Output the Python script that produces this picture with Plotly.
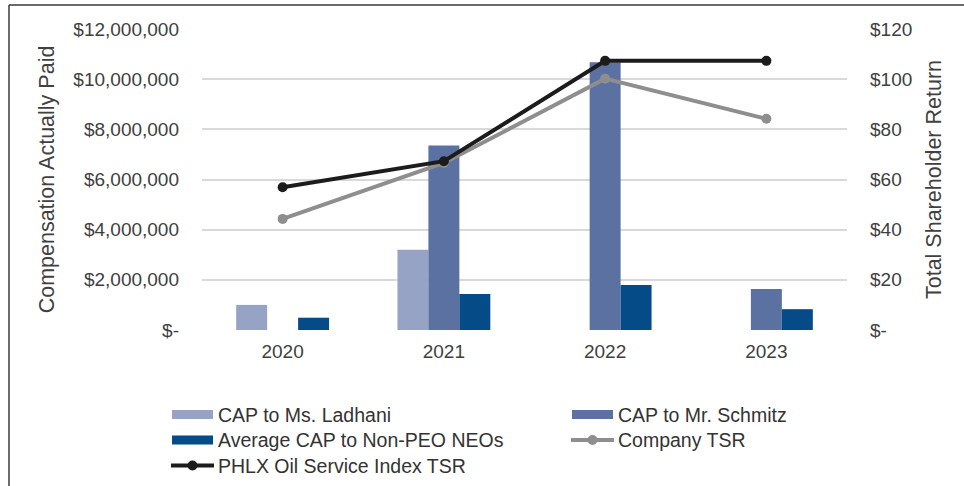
import plotly.graph_objects as go

# ---- data ----
years = ["2020", "2021", "2022", "2023"]
cap_ladhani = [1_000_000, 3_200_000, None, None]
cap_schmitz = [None, 7_360_000, 10_670_000, 1_630_000]
cap_non_peo = [490_000, 1_440_000, 1_790_000, 830_000]
company_tsr = [44.3, 66.6, 100.2, 84.2]
phlx_tsr = [56.9, 67.3, 107.3, 107.3]

left_ticks = [0, 2_000_000, 4_000_000, 6_000_000, 8_000_000, 10_000_000, 12_000_000]
left_labels = ["$-", "$2,000,000", "$4,000,000", "$6,000,000", "$8,000,000",
               "$10,000,000", "$12,000,000"]
right_ticks = [0, 20, 40, 60, 80, 100, 120]
right_labels = ["$-", "$20", "$40", "$60", "$80", "$100", "$120"]

names = ["CAP to Ms. Ladhani", "CAP to Mr. Schmitz", "Average CAP to Non-PEO NEOs",
         "Company TSR", "PHLX Oil Service Index TSR"]

# ---- styling ----
W, H = 964, 486
ML, MR, MT, MB = 202, 117, 29, 156
C_LADHANI = "#97A3C4"
C_SCHMITZ = "#5A71A1"
C_NONPEO = "#044B87"
C_COMPANY = "#8E8E8E"
C_PHLX = "#1C1C1C"
TEXT = "#404040"
FONT = "Liberation Sans, Arial, sans-serif"

fig = go.Figure()
fig.add_trace(go.Bar(x=years, y=cap_ladhani, name=names[0], marker_color=C_LADHANI,
                     marker_line_width=0, showlegend=False))
fig.add_trace(go.Bar(x=years, y=cap_schmitz, name=names[1], marker_color=C_SCHMITZ,
                     marker_line_width=0, showlegend=False))
fig.add_trace(go.Bar(x=years, y=cap_non_peo, name=names[2], marker_color=C_NONPEO,
                     marker_line_width=0, showlegend=False))
fig.add_trace(go.Scatter(x=years, y=company_tsr, name=names[3], yaxis="y2",
                         mode="lines+markers", line=dict(color=C_COMPANY, width=4),
                         marker=dict(color=C_COMPANY, size=10), showlegend=False))
fig.add_trace(go.Scatter(x=years, y=phlx_tsr, name=names[4], yaxis="y2",
                         mode="lines+markers", line=dict(color=C_PHLX, width=4),
                         marker=dict(color=C_PHLX, size=10), showlegend=False))

plot_w = W - ML - MR
plot_h = H - MT - MB


def px_x(px):
    return (px - ML) / plot_w


def px_y(py):
    return (H - MB - py) / plot_h


shapes = []
annotations = []

# legend: two columns of swatches with labels
legend_items = [
    (names[0], C_LADHANI, "bar", 172, 414.5),
    (names[1], C_SCHMITZ, "bar", 572, 414.5),
    (names[2], C_NONPEO, "bar", 172, 440),
    (names[3], C_COMPANY, "line", 572, 440),
    (names[4], C_PHLX, "line", 172, 465.5),
]
for label, color, kind, x0, yc in legend_items:
    if kind == "bar":
        shapes.append(dict(type="rect", xref="paper", yref="paper",
                           x0=px_x(x0), x1=px_x(x0 + 41), y0=px_y(yc - 4.5), y1=px_y(yc + 4.5),
                           fillcolor=color, line_width=0))
    else:
        shapes.append(dict(type="line", xref="paper", yref="paper",
                           x0=px_x(x0 - 1), x1=px_x(x0 + 42), y0=px_y(yc), y1=px_y(yc),
                           line=dict(color=color, width=4)))
        shapes.append(dict(type="circle", xref="paper", yref="paper",
                           x0=px_x(x0 + 15.5), x1=px_x(x0 + 25.5),
                           y0=px_y(yc - 5), y1=px_y(yc + 5),
                           fillcolor=color, line_width=0))
    annotations.append(dict(text=label, xref="paper", yref="paper",
                            x=px_x(x0 + 44), y=px_y(yc), xanchor="left", yanchor="middle",
                            showarrow=False, font=dict(size=19.5, color="#333333", family=FONT)))

# outer frame (left and top edges)
shapes.append(dict(type="line", xref="paper", yref="paper",
                   x0=px_x(9), x1=px_x(9), y0=px_y(5), y1=px_y(H + 5),
                   line=dict(color="#3A3A3A", width=1.5)))
shapes.append(dict(type="line", xref="paper", yref="paper",
                   x0=px_x(9), x1=px_x(W + 5), y0=px_y(5), y1=px_y(5),
                   line=dict(color="#3A3A3A", width=1.5)))

fig.update_layout(
    width=W, height=H,
    margin=dict(l=ML, r=MR, t=MT, b=MB, autoexpand=False),
    paper_bgcolor="white", plot_bgcolor="white",
    font=dict(family=FONT, color=TEXT, size=19),
    barmode="group", bargap=0.424, bargroupgap=0,
    xaxis=dict(type="category", showgrid=False, showline=False, zeroline=False,
               tickfont=dict(size=19, color=TEXT), ticklabelstandoff=8),
    yaxis=dict(range=[0, 12_000_000], tickvals=left_ticks, ticktext=left_labels,
               showgrid=True, gridcolor="#D9D9D9", gridwidth=1.5, zeroline=False,
               showline=False, tickfont=dict(size=19, color=TEXT), ticklabelstandoff=22,
               title=dict(text="Compensation Actually Paid", font=dict(size=21.5, color=TEXT),
                          standoff=12)),
    yaxis2=dict(range=[0, 120], tickvals=right_ticks, ticktext=right_labels,
                overlaying="y", side="right", showgrid=False, zeroline=False,
                showline=False, tickfont=dict(size=19, color=TEXT), ticklabelstandoff=22,
                title=dict(text="Total Shareholder Return", font=dict(size=21.5, color=TEXT),
                           standoff=14)),
    shapes=shapes,
    annotations=annotations,
)

fig.write_html("out.html")
